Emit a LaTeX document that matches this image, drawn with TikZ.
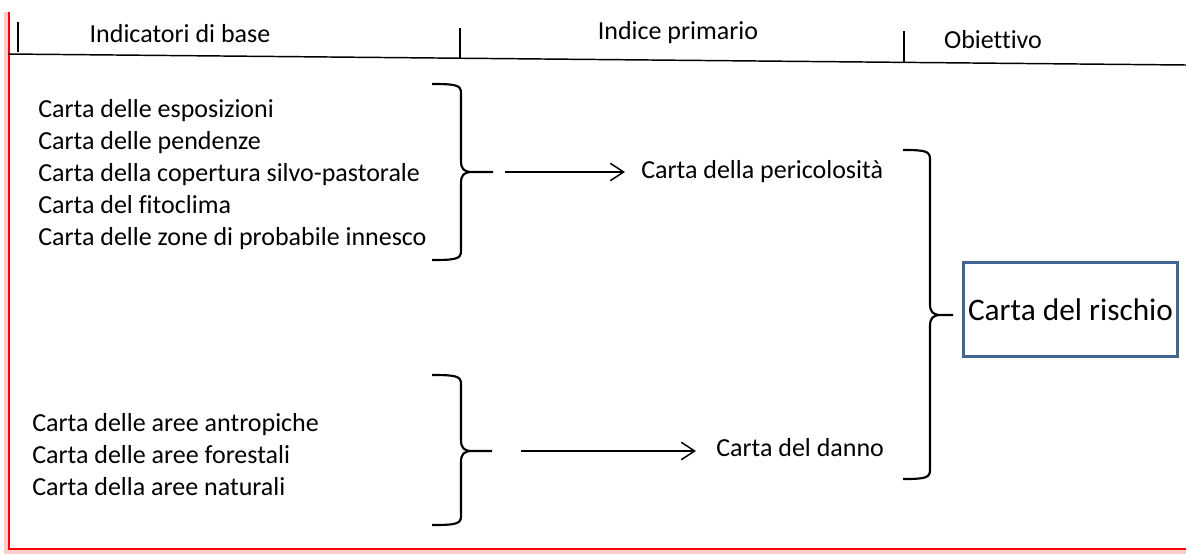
\documentclass[tikz,border=0pt]{standalone}
\usepackage{fontspec}
\setmainfont{Carlito}[Ligatures=NoCommon]
\usetikzlibrary{arrows.meta,positioning}

\definecolor{bordoblu}{RGB}{66,102,146}

\begin{document}
\begin{tikzpicture}[x=0.75pt, y=-0.75pt, >={Straight Barb[length=10pt,width=13pt]},
    lbl/.style={inner sep=0pt, font=\fontsize{19.5}{24}\selectfont},
    lista/.style={lbl, align=left, anchor=west},
    graffa/.style={draw, line width=1.6pt},
    freccia/.style={draw, ->, line width=1.1pt},
    risultato/.style={draw=bordoblu, line width=2.3pt, minimum width=158pt, minimum height=71pt,
        font=\fontsize{23.5}{28}\selectfont}]

    \useasboundingbox (0,0) rectangle (1186,554);

    % cornice rossa
    \draw[red!20, line width=5pt] (7,12) -- (7,551) -- (1186,551);
    \draw[red, line width=1.8pt] (9,12) -- (9,549) -- (1186,549);

    % intestazione
    \draw[line width=1.1pt] (8,54) -- (1186,65);
    \draw[line width=1.1pt] (18,22) -- (18,52);
    \draw[line width=1.1pt] (460,28) -- (460,58);
    \draw[line width=1.1pt] (904,31) -- (904,62);
    \node[lbl] (hbase) at (180,34) {Indicatori di base};
    \node[lbl] (hprim) at (678,33) {Indice primario};
    \node[lbl] (hobj) at (993,40) {Obiettivo};

    % indicatori di base
    \node[lista] (listaA) at (38,175) {Carta delle esposizioni\\
        Carta delle pendenze\\
        Carta della copertura silvo-pastorale\\
        Carta del fitoclima\\
        Carta delle zone di probabile innesco};
    \node[lista] (listaB) at (32,455) {Carta delle aree antropiche\\
        Carta delle aree forestali\\
        Carta della aree naturali};

    % graffe
    \draw[graffa] (432,84) .. controls (456,84) and (461,85) .. (461,93) -- (461,161)
        .. controls (461,169) and (464,172) .. (472,172)
        .. controls (464,172) and (461,175) .. (461,183) -- (461,251)
        .. controls (461,259) and (456,260) .. (432,260)
        (472,172) -- (493,172);
    \coordinate (puntaA) at (493,172);

    \draw[graffa] (432,375) .. controls (456,375) and (461,376) .. (461,384) -- (461,440)
        .. controls (461,448) and (464,451) .. (472,451)
        .. controls (464,451) and (461,454) .. (461,462) -- (461,516)
        .. controls (461,524) and (456,525) .. (432,525)
        (472,451) -- (492,451);
    \coordinate (puntaB) at (492,451);

    \draw[graffa] (903,150) .. controls (925,150) and (930,151) .. (930,159) -- (930,304)
        .. controls (930,312) and (933,315) .. (941,315)
        .. controls (933,315) and (930,318) .. (930,326) -- (930,470)
        .. controls (930,478) and (925,479) .. (903,479)
        (941,315) -- (953,315);
    \coordinate (puntaC) at (953,315);

    % indici primari
    \node[lbl, anchor=west] (peric) at (641,172) {Carta della pericolosità};
    \node[lbl, anchor=west] (danno) at (716,448) {Carta del danno};

    \draw[freccia, shorten <=9pt, shorten >=12pt] (puntaA) -- (peric.west);
    \draw[freccia, shorten <=22pt, shorten >=15pt] (puntaB) -- (puntaB -| danno.west);

    % obiettivo
    \node[risultato] (rischio) at (1070.5,309.5) {Carta del rischio};

\end{tikzpicture}
\end{document}
